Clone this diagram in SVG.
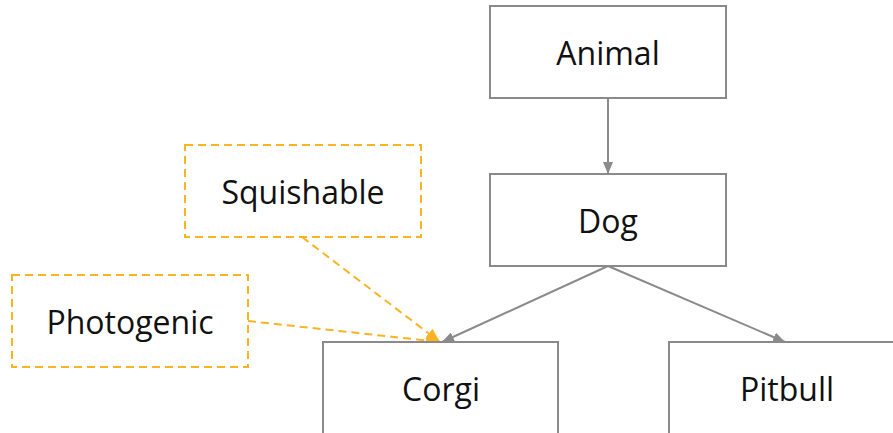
<svg xmlns="http://www.w3.org/2000/svg" width="893" height="433" viewBox="0 0 893 433">
  <style>
    .box { fill: #ffffff; stroke: #8a8a8a; stroke-width: 2; }
    .trait { fill: #ffffff; stroke: #fbb321; stroke-width: 2; stroke-dasharray: 8 5; }
    .label { font-family: "Open Sans", "Noto Sans", sans-serif; font-size: 32px; fill: #111111; text-anchor: middle; }
    .link { fill: none; stroke: #8a8a8a; stroke-width: 2; }
    .tlink { fill: none; stroke: #fbb321; stroke-width: 2; stroke-dasharray: 8 5; }
  </style>
  <defs>
    <marker id="arrowGray" viewBox="0 0 12 10" refX="12" refY="5" markerWidth="12" markerHeight="10" markerUnits="userSpaceOnUse" orient="auto">
      <path d="M0,0 L12,5 L0,10 Z" fill="#8a8a8a"/>
    </marker>
    <marker id="arrowOrange" viewBox="0 0 14 12" refX="14" refY="6" markerWidth="14" markerHeight="12" markerUnits="userSpaceOnUse" orient="auto">
      <path d="M0,0 L14,6 L0,12 Z" fill="#fbb321"/>
    </marker>
  </defs>

  <g id="connectors">
    <line class="link" x1="608" y1="98" x2="608" y2="174" marker-end="url(#arrowGray)"/>
    <line class="link" x1="608" y1="266" x2="442" y2="342" marker-end="url(#arrowGray)"/>
    <line class="link" x1="608" y1="266" x2="785" y2="342" marker-end="url(#arrowGray)"/>
    <line class="tlink" x1="302" y1="237" x2="440" y2="342" marker-end="url(#arrowOrange)"/>
    <line class="tlink" x1="248" y1="321" x2="440" y2="342" marker-end="url(#arrowOrange)"/>
  </g>

  <g id="animal">
    <rect class="box" x="490" y="6" width="236" height="92"/>
    <text class="label" x="608" y="65">Animal</text>
  </g>
  <g id="dog">
    <rect class="box" x="490" y="174" width="236" height="92"/>
    <text class="label" x="608" y="233">Dog</text>
  </g>
  <g id="corgi">
    <rect class="box" x="323" y="342" width="235" height="100"/>
    <text class="label" x="441" y="401">Corgi</text>
  </g>
  <g id="pitbull">
    <rect class="box" x="669" y="342" width="240" height="100"/>
    <text class="label" x="787" y="401">Pitbull</text>
  </g>
  <g id="squishable">
    <rect class="trait" x="185" y="145" width="236" height="92"/>
    <text class="label" x="303" y="204">Squishable</text>
  </g>
  <g id="photogenic">
    <rect class="trait" x="12" y="275" width="236" height="92"/>
    <text class="label" x="130" y="334">Photogenic</text>
  </g>
</svg>
